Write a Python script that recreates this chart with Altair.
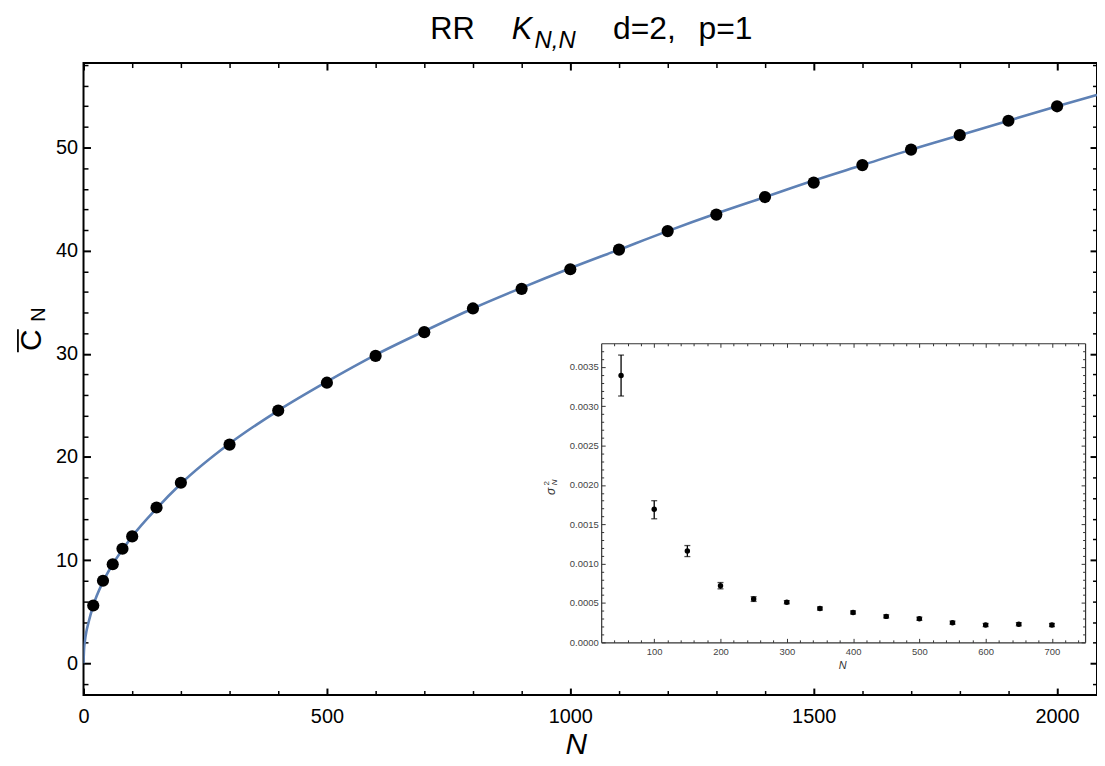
import altair as alt
import pandas as pd

# ---------------- data ----------------
N_pts = [20, 40, 60, 80, 100, 150, 200, 300, 400, 500, 600, 700, 800, 900, 1000,
         1100, 1200, 1300, 1400, 1500, 1600, 1700, 1800, 1900, 2000]
C_pts = [5.6, 8.0, 9.6, 11.1, 12.3, 15.1, 17.5, 21.2, 24.5, 27.2, 29.8, 32.1, 34.4, 36.3, 38.2,
         40.1, 41.9, 43.5, 45.2, 46.6, 48.3, 49.8, 51.2, 52.6, 54.0]

N_fit = [0, 1, 3, 6, 10, 20, 40, 60, 80, 100, 150, 200, 300, 400, 500, 600, 700, 800, 900,
         1000, 1100, 1200, 1300, 1400, 1500, 1600, 1700, 1800, 1900, 2000, 2082]
C_fit = [0, 1.3, 2.2, 3.1, 3.9, 5.6, 7.9, 9.6, 11.0, 12.3, 15.0, 17.4, 21.3, 24.5, 27.3, 29.9, 32.2,
         34.4, 36.4, 38.3, 40.1, 41.9, 43.6, 45.2, 46.8, 48.3, 49.8, 51.2, 52.6, 54.0, 55.1]

N_s = [50, 100, 150, 200, 250, 300, 350, 400, 450, 500, 550, 600, 650, 700]
sig = [0.00339, 0.00169, 0.00116, 0.00072, 0.00055, 0.00051, 0.00043, 0.00038, 0.00033,
       0.00030, 0.00025, 0.00022, 0.00023, 0.00022]
sig_lo = [0.00313, 0.00157, 0.00109, 0.00068, 0.00052, 0.00049, 0.00041, 0.00036, 0.00031,
          0.00028, 0.00023, 0.00020, 0.00021, 0.00020]
sig_hi = [0.00365, 0.00180, 0.00123, 0.00076, 0.00058, 0.00053, 0.00045, 0.00040, 0.00035,
          0.00032, 0.00027, 0.00024, 0.00025, 0.00024]

# tick values
X_MAJOR = [0, 500, 1000, 1500, 2000]
X_MINOR = [v for v in range(0, 2100, 100) if v % 500 != 0]
Y_MAJOR = [0, 10, 20, 30, 40, 50]
Y_MINOR = [v for v in range(-2, 59, 2) if v % 10 != 0]
IX_MAJOR = [100, 200, 300, 400, 500, 600, 700]
IX_MINOR = [v for v in range(40, 750, 20) if v % 100 != 0]
IY_MAJOR = [0.0, 0.0005, 0.0010, 0.0015, 0.0020, 0.0025, 0.0030, 0.0035]
IY_MINOR = [round(k * 0.0001, 4) for k in range(1, 38) if k % 5 != 0]

# texts
TITLE_A = "RR"
TITLE_K = "K"
TITLE_SUB = "N,N"
TITLE_B = "d=2,"
TITLE_C = "p=1"
XTITLE = "N"
YTITLE = "C"
YSUB = "N"
IXTITLE = "N"
IYTITLE = "σ"
IYSUP = "2"
IYSUB = "N"

main_df = pd.DataFrame({"N": N_pts, "C": C_pts})
fit_df = pd.DataFrame({"N": N_fit, "C": C_fit})
ins_df = pd.DataFrame({"N": N_s, "s": sig, "lo": sig_lo, "hi": sig_hi})

W, H = 1020, 636
FONT = "Liberation Sans"

mx = dict(domain=[0, 2082], nice=False, zero=False)
my = dict(domain=[-3.08, 58.19], nice=False, zero=False)
ix = dict(domain=[20, 750], range=[521, 1008], nice=False, zero=False)
iy = dict(domain=[0, 0.0038], range=[583, 282], nice=False, zero=False)


def tick_axis(orient, values, offset, size, width, color="black"):
    return alt.Axis(orient=orient, values=values, offset=offset, tickSize=size, tickWidth=width,
                    tickColor=color, domain=False, labels=False, grid=False, title="")


main_pairs = [
    (alt.Axis(orient="bottom", values=X_MAJOR, offset=-7, tickSize=7, tickWidth=2, tickColor="black",
              domain=False, grid=False, title="", labelPadding=12, labelFontSize=20, labelFont=FONT,
              labelColor="black", labelFlush=False, labelOverlap=False, format="d"),
     alt.Axis(orient="left", values=Y_MAJOR, offset=-7, tickSize=7, tickWidth=2, tickColor="black",
              domain=False, grid=False, title="", labelPadding=6, labelFontSize=20, labelFont=FONT,
              labelColor="black", labelFlush=False, labelOverlap=False, format="d")),
    (tick_axis("bottom", X_MINOR, -4.5, 4.5, 1.5), tick_axis("left", Y_MINOR, -4.5, 4.5, 1.5)),
    (tick_axis("top", X_MAJOR, -7, 7, 2), tick_axis("right", Y_MAJOR, -7, 7, 2)),
    (tick_axis("top", X_MINOR, -4.5, 4.5, 1.5), tick_axis("right", Y_MINOR, -4.5, 4.5, 1.5)),
]

IC = "#333333"
ins_pairs = [
    (alt.Axis(orient="bottom", values=IX_MAJOR, offset=-53, ticks=False, tickSize=0, domain=True,
              domainColor=IC, domainWidth=1.2, grid=False, title="", labelPadding=4, labelFontSize=9.5,
              labelFont=FONT, labelColor="#444444", labelFlush=False, labelOverlap=False, format="d"),
     alt.Axis(orient="left", values=IY_MAJOR, offset=-521, ticks=False, tickSize=0, domain=True,
              domainColor=IC, domainWidth=1.2, grid=False, title="", labelPadding=3, labelFontSize=9.5,
              labelFont=FONT, labelColor="#444444", labelFlush=False, labelOverlap=False, format=".4f")),
    (tick_axis("bottom", IX_MAJOR, -57, 4, 1, IC), tick_axis("left", IY_MAJOR, -525, 4, 1, IC)),
    (tick_axis("bottom", IX_MINOR, -55.5, 2.5, 1, IC), tick_axis("left", IY_MINOR, -523.5, 2.5, 1, IC)),
    (alt.Axis(orient="top", offset=-282, ticks=False, tickSize=0, domain=True, domainColor=IC,
              domainWidth=1.2, labels=False, grid=False, title=""),
     alt.Axis(orient="right", offset=-12, ticks=False, tickSize=0, domain=True, domainColor=IC,
              domainWidth=1.2, labels=False, grid=False, title="")),
    (tick_axis("top", IX_MAJOR, -286, 4, 1, IC), tick_axis("right", IY_MAJOR, -16, 4, 1, IC)),
    (tick_axis("top", IX_MINOR, -284.5, 2.5, 1, IC), tick_axis("right", IY_MINOR, -14.5, 2.5, 1, IC)),
]


def enc_main(pair):
    return dict(x=alt.X("N:Q", scale=alt.Scale(**mx), axis=pair[0]),
                y=alt.Y("C:Q", scale=alt.Scale(**my), axis=pair[1]))


def enc_ins(pair, yfield="s"):
    return dict(x=alt.X("N:Q", scale=alt.Scale(**ix), axis=pair[0]),
                y=alt.Y(f"{yfield}:Q", scale=alt.Scale(**iy), axis=pair[1]))


layers = []
# main curve and points
layers.append(alt.Chart(fit_df).mark_line(color="#5E81B5", strokeWidth=2.6, interpolate="monotone",
                                          clip=True).encode(**enc_main(main_pairs[1])))
layers.append(alt.Chart(main_df).mark_circle(color="black", opacity=1, size=150)
              .encode(**enc_main(main_pairs[0])))
layers.append(alt.Chart(main_df).mark_circle(opacity=0).encode(**enc_main(main_pairs[2])))
layers.append(alt.Chart(main_df).mark_circle(opacity=0).encode(**enc_main(main_pairs[3])))

# inset
layers.append(alt.Chart(ins_df).mark_rule(color="black", strokeWidth=1.3).encode(
    **enc_ins(ins_pairs[1], "lo"), y2="hi:Q"))
layers.append(alt.Chart(ins_df).mark_tick(color="black", orient="horizontal", size=6, thickness=1.3)
              .encode(**enc_ins(ins_pairs[2], "lo")))
layers.append(alt.Chart(ins_df).mark_tick(color="black", orient="horizontal", size=6, thickness=1.3)
              .encode(**enc_ins(ins_pairs[3], "hi")))
layers.append(alt.Chart(ins_df).mark_circle(color="black", opacity=1, size=30)
              .encode(**enc_ins(ins_pairs[0])))
layers.append(alt.Chart(ins_df).mark_circle(opacity=0).encode(**enc_ins(ins_pairs[4])))
layers.append(alt.Chart(ins_df).mark_circle(opacity=0).encode(**enc_ins(ins_pairs[5])))


def txt(s, x, y, size, italic=False, angle=0, align="left", baseline="alphabetic", color="black"):
    kw = dict(align=align, baseline=baseline, fontSize=size, font=FONT, color=color,
              fontStyle="italic" if italic else "normal")
    if angle:
        kw["angle"] = angle
    return alt.Chart(pd.DataFrame({"t": [s]})).mark_text(**kw).encode(
        x=alt.value(x), y=alt.value(y), text="t:N")


# title pieces (relative to plot origin)
layers.append(txt(TITLE_A, 349, -24, 31))
layers.append(txt(TITLE_K, 431, -24, 31, italic=True))
layers.append(txt(TITLE_SUB, 454, -15, 24, italic=True))
layers.append(txt(TITLE_B, 533, -24, 32))
layers.append(txt(TITLE_C, 619, -24, 32))
# axis titles
layers.append(txt(XTITLE, 496, 686, 30, italic=True, align="center", baseline="middle"))
layers.append(txt(YTITLE, -52, 279, 30, angle=270, align="center", baseline="middle"))
layers.append(txt(YSUB, -45, 253, 20, angle=270, align="center", baseline="middle"))
layers.append(alt.Chart(pd.DataFrame({"a": [0]})).mark_rule(color="black", strokeWidth=1.8).encode(
    x=alt.value(-66), y=alt.value(268), y2=alt.value(291)))
# inset titles
layers.append(txt(IXTITLE, 764, 607, 11, italic=True, align="center", baseline="middle", color="#333333"))
layers.append(txt(IYTITLE, 471, 431, 12, italic=True, angle=270, align="center", baseline="middle",
                  color="#333333"))
layers.append(txt(IYSUP, 466, 423, 8, angle=270, align="center", baseline="middle", color="#333333"))
layers.append(txt(IYSUB, 475, 422, 8, italic=True, angle=270, align="center", baseline="middle",
                  color="#333333"))

chart = (
    alt.layer(*layers)
    .resolve_scale(x="independent", y="independent")
    .resolve_axis(x="independent", y="independent")
    .properties(width=W, height=H, padding={"left": 76, "top": 53, "right": 0, "bottom": 68},
                autosize=alt.AutoSizeParams(type="none"), background="white")
    .configure_view(stroke="black", strokeWidth=2)
)

chart.save("out.html", embed_options={"renderer": "svg", "actions": False})
